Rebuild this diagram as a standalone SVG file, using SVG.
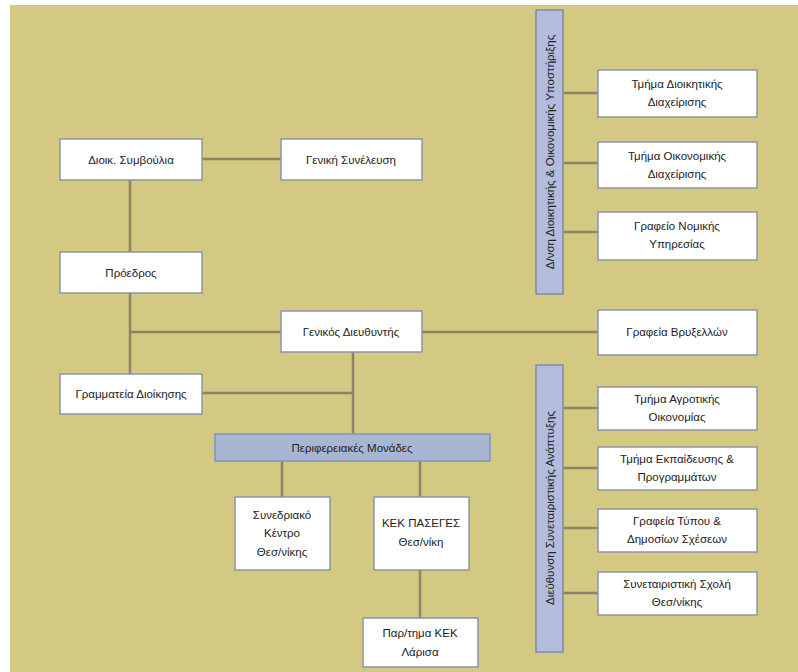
<svg xmlns="http://www.w3.org/2000/svg" width="798" height="672" viewBox="0 0 798 672">
<style>
.box{fill:#ffffff;stroke:#8e94a4;stroke-width:1.5}
.bar{fill:#b3bcdc;stroke:#7f88ac;stroke-width:1.5}
.pbar{fill:#a8b6d4;stroke:#8592b8;stroke-width:1.5}
.t{font-family:"Liberation Sans","Noto Sans",sans-serif;font-size:11.5px;fill:#222222;text-anchor:middle;dominant-baseline:central}
.ln{stroke:#8c8466;stroke-width:2.5;fill:none}
</style>
<rect x="0" y="0" width="798" height="672" fill="#ffffff"/>
<rect x="10" y="5" width="788" height="667" fill="#d3c982"/>
<g id="connectors">
<path class="ln" d="M202 159H281"/>
<path class="ln" d="M130 180V252"/>
<path class="ln" d="M130 293V374"/>
<path class="ln" d="M130 332H281"/>
<path class="ln" d="M422 332H598"/>
<path class="ln" d="M202 393H353"/>
<path class="ln" d="M353 352V434"/>
<path class="ln" d="M282 461V497"/>
<path class="ln" d="M420 461V497"/>
<path class="ln" d="M420 570V618"/>
<path class="ln" d="M563 93H598"/>
<path class="ln" d="M563 163H598"/>
<path class="ln" d="M563 232H598"/>
<path class="ln" d="M563 408H598"/>
<path class="ln" d="M563 468H598"/>
<path class="ln" d="M563 528H598"/>
<path class="ln" d="M563 593H598"/>
</g>
<g id="dioik">
<rect class="box" x="60" y="139" width="142" height="41"/>
<text class="t" x="131" y="160">Διοικ. Συμβούλια</text>
</g>
<g id="geniki">
<rect class="box" x="281" y="139" width="141" height="41"/>
<text class="t" x="351" y="160">Γενική Συνέλευση</text>
</g>
<g id="proedros">
<rect class="box" x="60" y="252" width="142" height="41"/>
<text class="t" x="131" y="273">Πρόεδρος</text>
</g>
<g id="gen-dieythyntis">
<rect class="box" x="281" y="311" width="141" height="41"/>
<text class="t" x="351" y="332">Γενικός Διευθυντής</text>
</g>
<g id="grammateia">
<rect class="box" x="60" y="374" width="142" height="40"/>
<text class="t" x="131" y="394">Γραμματεία Διοίκησης</text>
</g>
<g id="perifereiakes">
<rect class="pbar" x="215" y="434" width="275" height="27"/>
<text class="t" x="352" y="448">Περιφερειακές Μονάδες</text>
</g>
<g id="synedriako">
<rect class="box" x="235" y="497" width="95" height="73"/>
<text class="t" x="282" y="515">Συνεδριακό</text>
<text class="t" x="282" y="533">Κέντρο</text>
<text class="t" x="282" y="552">Θεσ/νίκης</text>
</g>
<g id="kek">
<rect class="box" x="374" y="497" width="95" height="73"/>
<text class="t" x="421" y="523">ΚΕΚ ΠΑΣΕΓΕΣ</text>
<text class="t" x="421" y="542">Θεσ/νίκη</text>
</g>
<g id="kek-larisa">
<rect class="box" x="363" y="618" width="115" height="49"/>
<text class="t" x="420" y="633">Παρ/τημα ΚΕΚ</text>
<text class="t" x="420" y="652">Λάρισα</text>
</g>
<g id="dnsi-dioik">
<rect class="bar" x="536" y="10" width="27" height="284"/>
<text class="t" transform="translate(549.5 152) rotate(-90)">Δ/νση Διοικητικής &amp; Οικονομικής Υποστήριξης</text>
</g>
<g id="dnsi-synet">
<rect class="bar" x="536" y="365" width="27" height="287"/>
<text class="t" transform="translate(549.5 508) rotate(-90)">Διεύθυνση Συνεταιριστικής Ανάπτυξης</text>
</g>
<g id="tm-dioik">
<rect class="box" x="598" y="70" width="159" height="47"/>
<text class="t" x="677" y="84">Τμήμα Διοικητικής</text>
<text class="t" x="677" y="102">Διαχείρισης</text>
</g>
<g id="tm-oikon">
<rect class="box" x="598" y="142" width="159" height="46"/>
<text class="t" x="677" y="156">Τμήμα Οικονομικής</text>
<text class="t" x="677" y="174">Διαχείρισης</text>
</g>
<g id="gr-nomikis">
<rect class="box" x="598" y="212" width="159" height="48"/>
<text class="t" x="677" y="226">Γραφείο Νομικής</text>
<text class="t" x="677" y="244">Υπηρεσίας</text>
</g>
<g id="gr-vryxellon">
<rect class="box" x="598" y="310" width="159" height="45"/>
<text class="t" x="677" y="332">Γραφεία Βρυξελλών</text>
</g>
<g id="tm-agrotikis">
<rect class="box" x="598" y="387" width="159" height="43"/>
<text class="t" x="677" y="399">Τμήμα Αγροτικής</text>
<text class="t" x="677" y="417">Οικονομίας</text>
</g>
<g id="tm-ekpaideysis">
<rect class="box" x="598" y="447" width="159" height="43"/>
<text class="t" x="677" y="459">Τμήμα Εκπαίδευσης &amp;</text>
<text class="t" x="677" y="477">Προγραμμάτων</text>
</g>
<g id="gr-typou">
<rect class="box" x="598" y="509" width="159" height="43"/>
<text class="t" x="677" y="521">Γραφεία Τύπου &amp;</text>
<text class="t" x="677" y="539">Δημοσίων Σχέσεων</text>
</g>
<g id="synet-scholi">
<rect class="box" x="598" y="572" width="159" height="43"/>
<text class="t" x="677" y="584">Συνεταιριστική Σχολή</text>
<text class="t" x="677" y="602">Θεσ/νίκης</text>
</g>
</svg>
